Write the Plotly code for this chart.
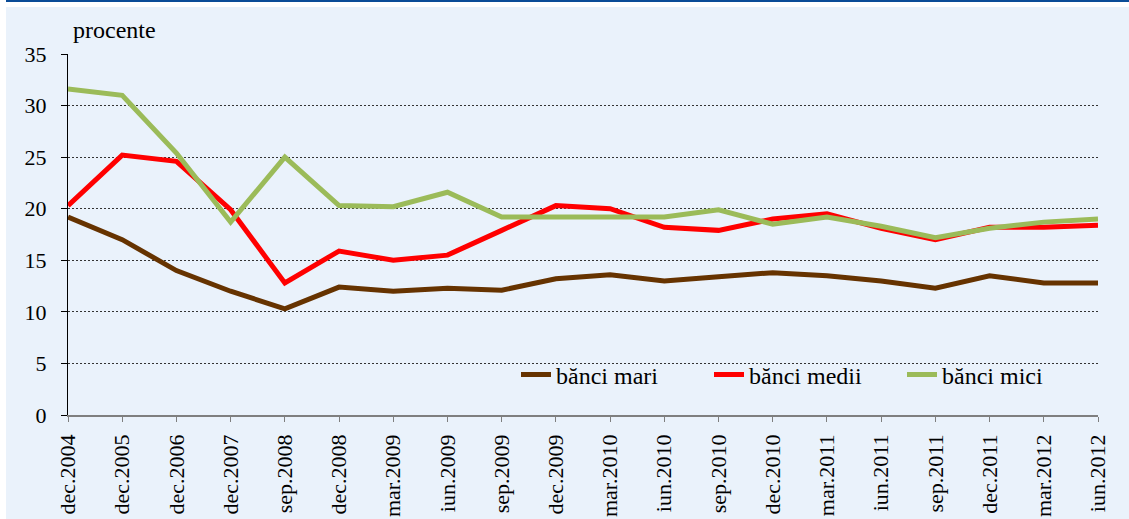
import plotly.graph_objects as go

# perioade si valori (procente)
perioade = ['dec.2004', 'dec.2005', 'dec.2006', 'dec.2007', 'sep.2008', 'dec.2008',
            'mar.2009', 'iun.2009', 'sep.2009', 'dec.2009', 'mar.2010', 'iun.2010',
            'sep.2010', 'dec.2010', 'mar.2011', 'iun.2011', 'sep.2011', 'dec.2011',
            'mar.2012', 'iun.2012']

banci_mari = [19.2, 17.0, 14.0, 12.0, 10.3, 12.4, 12.0, 12.3, 12.1, 13.2,
              13.6, 13.0, 13.4, 13.8, 13.5, 13.0, 12.3, 13.5, 12.8, 12.8]
banci_medii = [20.3, 25.2, 24.6, 19.9, 12.8, 15.9, 15.0, 15.5, 17.9, 20.3,
               20.0, 18.2, 17.9, 19.0, 19.5, 18.1, 17.0, 18.2, 18.2, 18.4]
banci_mici = [31.6, 31.0, 25.4, 18.7, 25.0, 20.3, 20.2, 21.6, 19.2, 19.2,
              19.3, 19.2, 19.9, 18.5, 19.2, 18.3, 17.2, 18.1, 18.7, 19.0]

y_ticks = [0, 5, 10, 15, 20, 25, 30, 35]

W, H = 1129, 519
L, R, T, B = 68, 31, 54, 104
BG = '#EAF2FB'
FONT = '"Liberation Serif", "Times New Roman", "DejaVu Serif", serif'


def px_x(px):
    return (px - L) / (W - L - R)


def px_y(py):
    return (H - B - py) / (H - B - T)


fig = go.Figure()
series = [('bănci mari', banci_mari, '#663300'),
          ('bănci medii', banci_medii, '#FF0000'),
          ('bănci mici', banci_mici, '#9BBB59')]
for name, vals, color in series:
    fig.add_trace(go.Scatter(x=perioade, y=vals, mode='lines', name=name,
                             line=dict(color=color, width=5)))

# fundal albastru deschis + linie albastra sus
fig.add_shape(type='rect', xref='paper', yref='paper', layer='below',
              x0=px_x(6), x1=px_x(W + 2), y0=px_y(H + 2), y1=px_y(7),
              fillcolor=BG, line_width=0)
fig.add_shape(type='rect', xref='paper', yref='paper', layer='below',
              x0=px_x(6), x1=px_x(W + 2), y0=px_y(2), y1=px_y(-1),
              fillcolor='#0A4C97', line_width=0)
# zona legendei acopera grila
fig.add_shape(type='rect', xref='paper', yref='paper', layer='between',
              x0=px_x(465), x1=px_x(1067), y0=px_y(395), y1=px_y(352),
              fillcolor=BG, line_width=0)

fig.add_annotation(text='procente', xref='paper', yref='paper',
                   x=px_x(71), y=px_y(30), xanchor='left', yanchor='middle',
                   showarrow=False, font=dict(family=FONT, size=24, color='black'))

fig.update_xaxes(type='category', range=[0, len(perioade) - 1], tickangle=-90,
                 showline=True, linecolor='#7F7F7F', linewidth=1.5,
                 ticks='outside', ticklen=5, tickcolor='#7F7F7F', tickwidth=1,
                 showgrid=False, zeroline=False, automargin=False,
                 ticklabelstandoff=4,
                 tickfont=dict(family=FONT, size=22, color='black'))
fig.update_yaxes(range=[0, 35], tickvals=y_ticks, showline=True, linecolor='black',
                 linewidth=1, ticks='outside', ticklen=6, tickcolor='black',
                 showgrid=True, gridcolor='#333333', gridwidth=1, griddash='2px,2px',
                 zeroline=False, automargin=False, ticklabelstandoff=10,
                 tickfont=dict(family=FONT, size=22, color='black'))

fig.update_layout(
    width=W, height=H,
    margin=dict(l=L, r=R, t=T, b=B),
    paper_bgcolor='white', plot_bgcolor=BG,
    showlegend=True,
    legend=dict(orientation='h', x=px_x(516), y=px_y(375), xanchor='left', yanchor='middle',
                bgcolor='rgba(0,0,0,0)', entrywidth=148,
                font=dict(family=FONT, size=24, color='black')),
)

fig.write_html('out.html', config={'displayModeBar': False},
               post_script="document.body.style.margin='0';")
